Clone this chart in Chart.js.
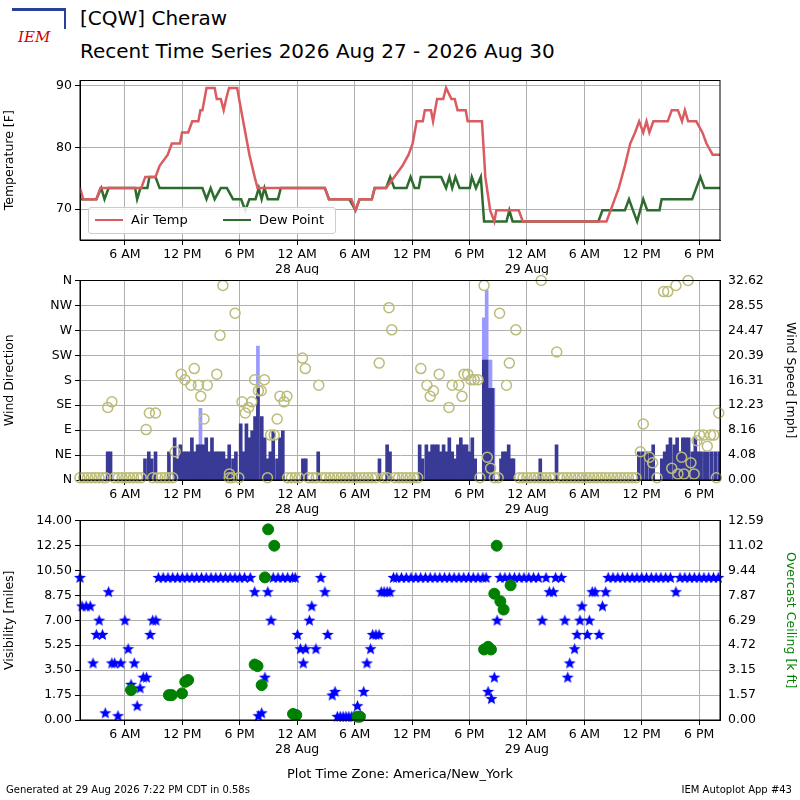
<!DOCTYPE html>
<html><head><meta charset="utf-8">
<script src="https://cdn.jsdelivr.net/npm/chart.js@4.4.1/dist/chart.umd.min.js"></script>
<style>
body{margin:0;width:800px;height:800px;background:#fff;font-family:"DejaVu Sans",sans-serif;position:relative;overflow:hidden}
canvas{position:absolute;left:0}
.t{position:absolute;color:#000;white-space:nowrap}
</style></head><body>
<div class="t" style="left:80px;top:6px;font-size:20px">[CQW] Cheraw</div>
<div class="t" style="left:80px;top:39px;font-size:20px">Recent Time Series 2026 Aug 27 - 2026 Aug 30</div>
<div class="t" style="left:12px;top:8px;width:52px;height:40px;font-size:15px;color:#c00;font-style:italic;font-family:'DejaVu Serif'"><div style="position:absolute;left:0;top:0;width:52px;height:18px;border-top:3px solid #2a3f9a;border-right:2px solid #2a3f9a"></div><div style="position:absolute;left:6px;top:20px">IEM</div></div>
<canvas id="c1" width="800" height="205" style="top:70px"></canvas>
<canvas id="c2" width="800" height="255" style="top:270px"></canvas>
<canvas id="c3" width="800" height="255" style="top:510px"></canvas>
<div class="t" style="left:88px;top:207px;width:246px;height:25px;border:1px solid #ccc;border-radius:3px;background:rgba(255,255,255,0.85);font-size:13px">
<span style="position:absolute;left:6px;top:11px;width:28px;border-top:2.5px solid #da5b60"></span><span style="position:absolute;left:42px;top:4px">Air Temp</span>
<span style="position:absolute;left:134px;top:11px;width:28px;border-top:2.5px solid #2e6b2e"></span><span style="position:absolute;left:170px;top:4px">Dew Point</span></div>
<div class="t" style="left:0;width:800px;text-align:center;top:766px;font-size:13px">Plot Time Zone: America/New_York</div>
<div class="t" style="left:6px;top:784px;font-size:10px">Generated at 29 Aug 2026 7:22 PM CDT in 0.58s</div>
<div class="t" style="right:8px;top:784px;font-size:10px">IEM Autoplot App #43</div>
<script>
// ---- data (hours since 2026-08-27 00:00 America/New_York) ----
const tempTimes=[1.31,1.65,3.02,3.44,7.71,8.13,9.2,9.63,10.48,10.9,11.76,11.97,12.61,13.04,13.68,13.89,14.1,14.32,14.53,15.38,15.6,16.02,16.32,16.58,16.88,17.73,18.15,18.58,19.01,19.56,19.86,26.9,27.32,29.67,30.09,30.52,31.8,32.1,33.29,34.15,35.0,35.64,36.06,36.49,37.13,37.34,37.98,38.2,38.62,39.26,39.56,40.12,40.46,40.76,41.61,41.82,43.31,43.66,44.17,44.6,44.81,47.15,47.58,56.32,56.75,57.6,58.24,58.8,59.31,59.73,60.16,60.5,60.8,61.22,62.72,63.14,63.78,64.21,64.51,64.85,65.7,66.34,66.77,67.41,68.18];
const tempVals=[73.4,71.6,71.6,73.4,73.4,75.2,75.2,77,78.8,80.6,80.6,82.4,82.4,84.2,84.2,86,86,87.8,89.6,89.6,87.8,87.8,86,87.8,89.6,89.6,86,82.4,78.8,75.2,73.4,73.4,71.6,71.6,69.8,71.6,71.6,73.4,73.4,75.2,77,78.8,80.6,84.2,84.2,86,86,84.2,87.8,87.8,89.6,87.8,87.8,86,86,84.2,84.2,75.2,69.8,68,69.8,69.8,68,68,69.8,73.4,77,80.6,82.4,84.2,82.4,84.2,82.4,84.2,84.2,86,86,84.2,86,84.2,84.2,82.4,80.6,78.8,78.8];
const dewTimes=[1.31,3.02,3.53,3.87,4.3,7.07,7.28,7.62,8.35,8.56,9.2,9.63,14.1,14.53,14.96,15.38,16.02,16.66,17.3,18.15,18.58,19.01,19.65,19.99,20.29,20.58,20.93,21.99,22.29,26.9,27.32,29.45,30.09,30.52,31.8,32.1,33.29,33.72,34.15,35.43,35.85,36.28,36.7,36.92,39.05,39.56,39.9,40.2,40.54,40.97,42.04,42.25,42.68,43.19,43.53,45.87,46.17,46.51,55.47,55.9,58.24,58.67,59.09,59.52,60.16,60.58,61.86,62.08,65.27,66.13,66.56,68.18];
const dewVals=[71.6,71.6,73.4,71.6,73.4,73.4,71.6,73.4,73.4,75.2,75.2,73.4,73.4,71.6,73.4,71.6,73.4,73.4,71.6,71.6,69.8,71.6,71.6,73.4,71.6,73.4,71.6,71.6,73.4,73.4,71.6,71.6,69.8,71.6,71.6,73.4,73.4,75.2,73.4,73.4,75.2,73.4,73.4,75.2,75.2,73.4,75.2,73.4,75.2,73.4,73.4,75.2,73.4,75.2,68,68,69.8,68,68,69.8,69.8,71.6,69.8,68,71.6,69.8,69.8,71.6,71.6,75.2,73.4,73.4];
const windTimes=[4.2,4.5,8.1,8.5,8.8,9.2,10.6,11.2,11.5,11.8,12.1,12.4,12.7,13.0,13.3,13.6,13.9,14.2,14.5,14.8,15.1,15.4,15.7,16.0,16.3,16.6,16.9,17.3,17.6,18.1,18.4,18.7,19.0,19.3,19.6,19.9,20.3,20.6,20.9,21.2,21.5,21.9,22.2,22.5,24.6,24.9,26.2,32.6,33.4,33.7,36.8,37.1,37.5,37.8,38.1,38.4,38.7,39.0,39.3,39.6,39.9,40.2,40.5,40.8,41.1,41.4,41.7,42.0,42.3,42.6,43.5,43.8,44.1,44.4,45.3,45.5,45.8,46.1,46.4,46.6,49.4,51.1,59.7,60.1,60.5,60.9,61.2,62.1,62.4,62.7,63.0,63.4,63.7,64.0,64.3,64.6,64.9,65.3,65.6,65.9,66.2,66.6,66.9,67.3,67.7,68.1];
const windSpeed=[4.6,4.6,3.45,4.6,3.45,4.6,4.6,6.9,3.45,5.75,4.6,4.6,4.6,6.9,4.6,5.75,5.75,5.75,6.9,4.6,6.9,4.6,4.6,4.6,4.6,3.45,5.75,3.45,4.6,9.2,4.6,9.2,6.9,8.05,10.35,15.0,10.35,6.9,3.45,4.6,8.05,3.45,6.9,8.05,3.45,3.45,4.6,3.45,5.75,4.6,5.75,3.45,5.75,4.6,5.75,5.75,5.75,4.6,5.75,4.6,6.9,4.6,3.45,5.75,6.9,5.75,5.75,4.6,6.9,3.45,19.6,19.6,15.0,15.0,3.45,4.6,4.6,5.75,3.45,3.45,3.45,5.75,4.6,4.6,4.6,4.6,5.75,3.45,4.6,5.75,6.9,5.75,6.9,4.6,6.9,6.9,6.9,4.6,6.9,4.6,4.6,4.6,4.6,4.6,4.6,4.6];
const gustTimes=[13.9,19.9,43.5,43.8,44.2,44.5];
const gustSpeed=[11.7,21.9,26.5,31.0,19.6,15.0];
const dirTimes=[4.21,4.64,8.22,8.56,9.2,11.25,11.89,12.27,12.91,13.25,13.68,13.93,14.27,14.61,15.6,15.94,16.24,16.92,17.51,18.24,18.58,18.92,19.26,19.56,19.95,20.24,20.58,21.22,21.6,21.91,22.2,22.63,22.93,24.55,24.85,26.26,32.57,33.59,33.89,36.92,37.56,37.9,38.24,38.84,39.86,40.2,40.89,41.22,41.44,41.82,42.16,42.5,42.89,43.53,43.87,44.21,45.15,45.87,46.17,46.85,49.5,51.12,59.86,60.16,60.8,61.14,62.29,62.72,63.14,63.57,63.78,64.17,64.42,64.85,65.14,65.48,65.78,66.04,66.47,66.85,67.19,67.53,68.05,
1.3,1.7,2.1,2.5,2.9,3.3,3.7,4.0,4.9,5.3,5.7,6.1,6.5,6.9,7.3,7.7,8.9,9.4,9.8,10.2,10.6,11.0,16.9,17.2,17.9,20.9,23.0,23.4,23.8,24.2,25.2,25.6,26.0,26.6,27.0,27.4,27.8,28.2,28.6,29.0,29.4,29.8,30.2,30.6,31.0,31.4,31.8,32.2,33.0,33.4,34.2,34.6,35.0,35.4,35.8,36.2,36.6,43.1,44.6,45.0,47.2,47.6,48.0,48.4,48.8,49.2,49.6,50.0,50.4,50.8,51.4,51.8,52.2,52.6,53.0,53.4,53.8,54.2,54.6,55.0,55.4,55.8,56.2,56.6,57.0,57.4,57.8,58.2,58.6,59.0,59.4,61.6,67.8];
const dirVals=[131,141,91,121,121,51,191,181,171,201,171,151,110,171,191,261,351,11,301,141,121,131,141,181,161,161,181,81,81,110,151,141,151,220,201,171,211,311,271,201,171,151,161,191,131,171,171,151,191,191,181,181,181,351,41,21,301,171,211,271,360,231,51,101,41,31,340,340,21,351,11,41,11,360,31,11,71,81,81,61,81,81,121,
4,4,4,4,4,4,4,4,4,4,4,4,4,4,4,4,4,4,4,4,4,4,4,4,4,4,4,4,4,4,4,4,4,4,4,4,4,4,4,4,4,4,4,4,4,4,4,4,4,4,4,4,4,4,4,4,4,4,4,4,4,4,4,4,4,4,4,4,4,4,4,4,4,4,4,4,4,4,4,4,4,4,4,4,4,4,4,4,4,4,4,4,4];
const visTimes=[1.31,1.52,1.95,2.38,2.67,3.02,3.31,3.66,3.95,4.3,4.64,4.93,5.28,5.57,6.0,6.34,6.64,6.98,7.28,7.58,7.92,8.26,8.64,8.9,9.24,
9.5,10.0,10.5,11.0,11.5,12.0,12.5,13.0,13.5,14.0,14.5,15.0,15.5,16.0,16.5,17.0,17.5,18.0,18.5,19.1,
19.56,19.95,20.29,20.63,20.93,21.27,21.5,22.0,22.5,23.0,23.5,23.8,24.04,24.34,24.64,24.89,25.28,25.53,25.96,26.47,26.9,27.19,27.66,27.96,28.2,28.5,28.8,29.1,29.4,29.7,29.9,30.3,30.56,30.95,31.29,31.67,31.89,32.23,32.57,32.78,33.08,33.4,33.7,34.06,
34.4,34.9,35.4,35.9,36.4,36.9,37.4,37.9,38.4,38.9,39.4,39.9,40.4,40.9,41.4,41.9,42.4,42.9,43.4,43.74,43.95,44.3,44.6,44.89,
45.2,45.7,46.2,46.7,47.2,47.7,48.2,48.7,49.2,49.6,50.0,50.35,50.77,51.0,51.6,51.97,52.27,52.48,52.99,53.25,53.55,53.76,54.32,54.53,54.83,55.13,55.55,55.9,56.24,
56.5,57.0,57.5,58.0,58.5,59.0,59.5,60.0,60.5,61.0,61.5,62.0,62.5,63.0,63.57,64.0,64.5,65.0,65.5,66.0,66.5,67.0,67.5,68.0];
const visVals=[10,8,8,8,4,6,7,6,0.5,9,4,4,0.3,4,7,5,2.5,4,1,2.25,3,3,6,7,7,
10,10,10,10,10,10,10,10,10,10,10,10,10,10,10,10,10,10,10,10,
9,0.3,0.5,3,9,7,10,10,10,10,10,10,6,5,4,5,7,8,5,10,9,6,1.75,2,0.25,0.25,0.25,0.25,0.25,0.25,0.25,1,0.3,2,4,5,6,6,6,9,9,9,9,10,
10,10,10,10,10,10,10,10,10,10,10,10,10,10,10,10,10,10,10,10,2,1.5,3,7,
10,10,10,10,10,10,10,10,10,7,10,9,9,10,10,7,3,4,5,6,7,8,6,7,9,9,6,8,9,
10,10,10,10,10,10,10,10,10,10,10,10,10,10,9,10,10,10,10,10,10,10,10,10];
const ceilTimes=[6.64,10.6,10.9,11.97,12.31,12.61,19.56,19.86,20.29,20.63,20.97,21.61,23.57,23.91,30.3,30.56,43.53,43.95,44.25,44.6,44.85,45.23,45.57,46.3];
const ceilVals=[1.89,1.57,1.57,1.68,2.41,2.52,3.5,3.4,2.2,9.0,12.03,11.0,0.38,0.31,0.21,0.21,4.45,4.62,4.45,7.97,11.0,7.49,6.97,8.5];
const dirLabels=['N','NE','E','SE','S','SW','W','NW','N'];
const speedLabels=['0.00','4.08','8.16','12.23','16.31','20.39','24.47','28.55','32.62'];
const visLabels=['0.00','1.75','3.50','5.25','7.00','8.75','10.50','12.25','14.00'];
const ceilLabels=['0.00','1.57','3.15','4.72','6.29','7.87','9.44','11.02','12.59'];
const xTicks=[6,12,18,24,30,36,42,48,54,60,66];

// ---- helpers ----
const pts=(xs,ys)=>xs.map((x,i)=>({x:x,y:ys[i]}));
const F={family:'DejaVu Sans',size:12.5};
const GRID='#b0b0b0';
function lbl(v){const h=((v%24)+24)%24;if(h===0)return['12 AM',(27+v/24)+' Aug'];return h===6?'6 AM':h===12?'12 PM':'6 PM';}
function xAxis(h){return{type:'linear',offset:false,min:1.31,max:68.18,afterBuildTicks:s=>{s.ticks=xTicks.map(v=>({value:v}));},
 ticks:{callback:lbl,maxRotation:0,autoSkip:false,color:'#000',font:F,padding:2},grid:{offset:false,color:GRID,tickLength:5,tickColor:'#000'},border:{color:'#000'},afterFit:s=>{s.height=h;}};}
function yAxis(pos,max,labels,title,col,grid){return{position:pos,min:0,max:max,afterBuildTicks:s=>{s.ticks=labels.map((l,i)=>({value:i*max/8}));},
 ticks:{callback:(v,i)=>labels[i],color:'#000',font:F,padding:3,autoSkip:false},grid:{display:grid,drawOnChartArea:grid,color:GRID,tickLength:5,tickColor:'#000'},border:{color:'#000'},
 title:{display:true,text:title,color:col||'#000',font:F,padding:2},afterFit:s=>{s.width=80;}};}
const frame={id:'frame',afterDraw(c){const a=c.chartArea,x=c.ctx;x.save();x.strokeStyle='#000';x.lineWidth=1;x.strokeRect(a.left,a.top,a.right-a.left,a.bottom-a.top);x.restore();}};
const base={responsive:false,animation:false,plugins:{legend:{display:false},tooltip:{enabled:false}}};

// panel 1
new Chart(document.getElementById('c1'),{type:'line',data:{datasets:[
 {data:pts(tempTimes,tempVals),borderColor:'#da5b60',borderWidth:2.5,pointRadius:0},
 {data:pts(dewTimes,dewVals),borderColor:'#2e6b2e',borderWidth:2.5,pointRadius:0}]},
 options:{...base,layout:{padding:{top:10,right:80}},scales:{x:xAxis(35),
  y:{position:'left',min:65,max:90.8,afterBuildTicks:s=>{s.ticks=[70,80,90].map(v=>({value:v}));},ticks:{color:'#000',font:F,padding:3},
   grid:{color:GRID,tickLength:5,tickColor:'#000'},border:{color:'#000'},title:{display:true,text:'Temperature [F]',color:'#000',font:F,padding:2},afterFit:s=>{s.width=80;}}}},plugins:[frame]});

// panel 2
new Chart(document.getElementById('c2'),{type:'scatter',data:{datasets:[
 {type:'scatter',data:pts(dirTimes,dirVals),yAxisID:'y',pointStyle:'circle',pointRadius:5,borderColor:'#bcbc7a',backgroundColor:'rgba(0,0,0,0)',borderWidth:1.5,clip:false,order:0},
 {type:'bar',data:pts(windTimes,windSpeed),yAxisID:'y2',backgroundColor:'#393996',barThickness:3,grouped:false,order:1},
 {type:'bar',data:pts(gustTimes,gustSpeed),yAxisID:'y2',backgroundColor:'#9999ff',barThickness:3,grouped:false,order:2}]},
 options:{...base,layout:{padding:{top:10}},scales:{x:xAxis(45),
  y:yAxis('left',360,dirLabels,'Wind Direction',null,true),
  y2:yAxis('right',32.62,speedLabels,'Wind Speed [mph]',null,false)}},plugins:[frame]});

// panel 3
const star=document.createElement('canvas');star.width=13;star.height=13;
(function(){const g=star.getContext('2d');g.fillStyle='#0000ff';g.beginPath();for(let i=0;i<10;i++){const r=i%2?2.7:6.3,a=-Math.PI/2+i*Math.PI/5;g.lineTo(6.5+r*Math.cos(a),7+r*Math.sin(a));}g.closePath();g.fill();})();
new Chart(document.getElementById('c3'),{type:'scatter',data:{datasets:[
 {data:pts(ceilTimes,ceilVals),yAxisID:'y2',pointStyle:'circle',pointRadius:5.5,backgroundColor:'#008000',borderColor:'#008000',clip:false,order:0},
 {data:pts(visTimes,visVals),yAxisID:'y',pointStyle:star,clip:false,order:1}]},
 options:{...base,layout:{padding:{top:10}},scales:{x:xAxis(45),
  y:yAxis('left',14,visLabels,'Visibility [miles]',null,true),
  y2:yAxis('right',12.59,ceilLabels,'Overcast Ceiling [k ft]','#008000',false)}},plugins:[frame]});
</script></body></html>
